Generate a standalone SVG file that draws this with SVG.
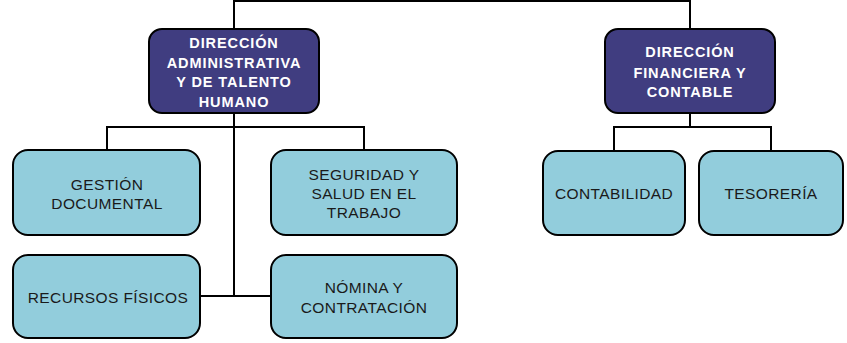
<svg xmlns="http://www.w3.org/2000/svg" width="847" height="343" viewBox="0 0 847 343">
<style>
.dark{fill:#403D80;stroke:#000;stroke-width:2}
.light{fill:#92CDDC;stroke:#000;stroke-width:2}
.tb{font-family:"Liberation Sans",Arial,sans-serif;font-weight:bold;font-size:14.5px;fill:#fff;text-anchor:middle;letter-spacing:0.9px}
.t{font-family:"Liberation Sans",Arial,sans-serif;font-size:15.5px;fill:#1a1a1a;text-anchor:middle;letter-spacing:0.4px}
.c{fill:none;stroke:#000;stroke-width:2}
</style>
<rect width="847" height="343" fill="#fff"/>
<g id="connectors">
<polyline class="c" points="234,29 234,1 690,1 690,29"/>
<line class="c" x1="234" y1="113" x2="234" y2="296"/>
<polyline class="c" points="107,150 107,127 364,127 364,150"/>
<line class="c" x1="200" y1="296" x2="271" y2="296"/>
<line class="c" x1="690" y1="113" x2="690" y2="127"/>
<polyline class="c" points="614,151 614,127 771,127 771,151"/>
</g>
<g id="dir-admin">
<rect class="dark" x="149" y="29" width="170" height="84" rx="13"/>
<text class="tb" x="234" y="48">DIRECCIÓN</text>
<text class="tb" x="234" y="68">ADMINISTRATIVA</text>
<text class="tb" x="234" y="87">Y DE TALENTO</text>
<text class="tb" x="234" y="107">HUMANO</text>
</g>
<g id="dir-fin">
<rect class="dark" x="605" y="29" width="170" height="84" rx="13"/>
<text class="tb" x="690" y="57">DIRECCIÓN</text>
<text class="tb" x="690" y="78">FINANCIERA Y</text>
<text class="tb" x="690" y="97">CONTABLE</text>
</g>
<g id="gestion">
<rect class="light" x="13" y="150" width="187" height="85" rx="15"/>
<text class="t" x="107" y="190">GESTIÓN</text>
<text class="t" x="107" y="209">DOCUMENTAL</text>
</g>
<g id="seguridad">
<rect class="light" x="271" y="150" width="186" height="85" rx="15"/>
<text class="t" x="364" y="180">SEGURIDAD Y</text>
<text class="t" x="364" y="199">SALUD EN EL</text>
<text class="t" x="364" y="218">TRABAJO</text>
</g>
<g id="recursos">
<rect class="light" x="13" y="255" width="187" height="83" rx="15"/>
<text class="t" x="108" y="303">RECURSOS FÍSICOS</text>
</g>
<g id="nomina">
<rect class="light" x="271" y="255" width="186" height="83" rx="15"/>
<text class="t" x="364" y="293">NÓMINA Y</text>
<text class="t" x="364" y="313">CONTRATACIÓN</text>
</g>
<g id="contabilidad">
<rect class="light" x="543" y="151" width="142" height="84" rx="15"/>
<text class="t" x="614" y="199">CONTABILIDAD</text>
</g>
<g id="tesoreria">
<rect class="light" x="699" y="151" width="144" height="84" rx="15"/>
<text class="t" x="771" y="199">TESORERÍA</text>
</g>
</svg>
